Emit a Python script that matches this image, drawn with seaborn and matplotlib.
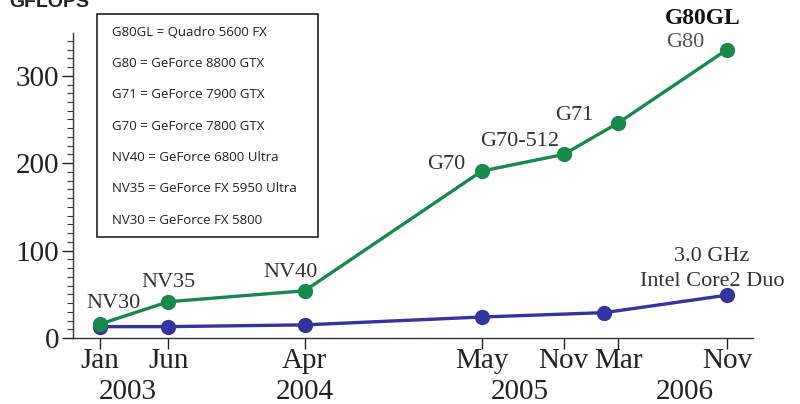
import matplotlib
matplotlib.use("Agg")
import matplotlib.pyplot as plt
import matplotlib.transforms as mtransforms
from matplotlib.patches import Rectangle
from matplotlib.ticker import MultipleLocator
import seaborn as sns
import pandas as pd

# data: x is months since Jan 2003
gpu_months = [0, 5, 15, 28, 34, 38, 46]
gpu_gflops = [16, 41.5, 54, 191, 210, 246, 330]
gpu_names = ["NV30", "NV35", "NV40", "G70", "G70-512", "G71", "G80"]

cpu_months = [0, 5, 15, 28, 37, 46]
cpu_gflops = [13, 13, 15, 24, 29, 49]

tick_months = [0, 5, 15, 28, 34, 38, 46]
tick_labels = ["Jan", "Jun", "Apr", "May", "Nov", "Mar", "Nov"]
year_labels = ["2003", "2004", "2005", "2006"]
year_months = [2.0, 15.0, 30.8, 42.9]

legend_lines = [
    "G80GL = Quadro 5600 FX",
    "G80 = GeForce 8800 GTX",
    "G71 = GeForce 7900 GTX",
    "G70 = GeForce 7800 GTX",
    "NV40 = GeForce 6800 Ultra",
    "NV35 = GeForce FX 5950 Ultra",
    "NV30 = GeForce FX 5800",
]

GREEN = "#18894a"
BLUE = "#3434a0"
SERIF = "Liberation Serif"

sns.set_style("ticks")
plt.rcParams["font.family"] = [SERIF, "DejaVu Serif"]

gpu = pd.DataFrame({"month": gpu_months, "gflops": gpu_gflops})
cpu = pd.DataFrame({"month": cpu_months, "gflops": cpu_gflops})

fig = plt.figure(figsize=(8, 4.04), dpi=100)
ax = fig.add_axes([0.09125, 0.1634, 0.85, 0.755])

sns.lineplot(data=cpu, x="month", y="gflops", ax=ax, color=BLUE, linewidth=2.4,
             marker="o", markersize=11, markeredgewidth=0)
sns.lineplot(data=gpu, x="month", y="gflops", ax=ax, color=GREEN, linewidth=2.4,
             marker="o", markersize=11, markeredgewidth=0)

ax.set_xlim(-2.0, 47.9)
ax.set_ylim(0, 349)
ax.set_xlabel("")
ax.set_ylabel("")
ax.spines["top"].set_visible(False)
ax.spines["right"].set_visible(False)
for s in ("left", "bottom"):
    ax.spines[s].set_color("#333333")
    ax.spines[s].set_linewidth(1.0)

ax.set_yticks([0, 100, 200, 300])
ax.yaxis.set_minor_locator(MultipleLocator(10))
ax.tick_params(axis="y", which="major", length=8, width=1, labelsize=21, colors="#222222", pad=2)
ax.tick_params(axis="y", which="minor", length=4, width=0.8, colors="#333333")
ax.set_xticks(tick_months)
ax.set_xticklabels(tick_labels)
ax.tick_params(axis="x", which="major", length=8, width=1, labelsize=21, colors="#222222", pad=-1)

# year row under the month labels
trans = mtransforms.blended_transform_factory(ax.transData, ax.transAxes)
for m, lab in zip(year_months, year_labels):
    ax.text(m, -0.176, lab, transform=trans, ha="center", va="center",
            fontsize=21, color="#222222", clip_on=False)

# point labels on the GPU line (offsets in months / GFLOPS)
label_offsets = {
    "NV30": (1.0, 24),
    "NV35": (0.0, 21.5),
    "NV40": (-1.0, 21.5),
    "G70": (-2.6, 7),
    "G70-512": (-3.2, 14.6),
    "G71": (-3.2, 9),
    "G80": (-3.1, 8),
}
for m, v, name in zip(gpu_months, gpu_gflops, gpu_names):
    dx, dy = label_offsets[name]
    col = "#555555" if name == "G80" else "#333333"
    ax.text(m + dx, v + dy, name, ha="center", va="center", fontsize=16, color=col)

ax.text(gpu_months[-1] - 1.8, gpu_gflops[-1] + 36, "G80GL", ha="center", va="center",
        fontsize=17, color="#111111", fontweight="bold")
ax.text(cpu_months[-1] - 1.1, cpu_gflops[-1] + 44, "3.0 GHz", ha="center", va="center",
        fontsize=16, color="#333333")
ax.text(cpu_months[-1] - 1.1, cpu_gflops[-1] + 16, "Intel Core2 Duo", ha="center", va="center",
        fontsize=16, color="#333333")

# key box listing the chip names
box = Rectangle((97 / 800, 1 - 237 / 404), 221 / 800, 223 / 404, transform=fig.transFigure,
                facecolor="white", edgecolor="#222222", linewidth=1.2, zorder=5)
fig.add_artist(box)
for i, line in enumerate(legend_lines):
    fig.text(112 / 800, 1 - (32 + i * 31.4) / 404, line, ha="left", va="center",
             fontsize=9.5, family=["Open Sans", "DejaVu Sans"], color="#222222", zorder=6)

# axis title, cut off at the top edge as in the source image
fig.text(0.012, 1 - 7 / 404, "GFLOPS", ha="left", va="baseline", fontsize=14,
         fontweight="bold", family=["Liberation Sans", "DejaVu Sans"], color="#222222")

fig.savefig("out.png", dpi=100)
